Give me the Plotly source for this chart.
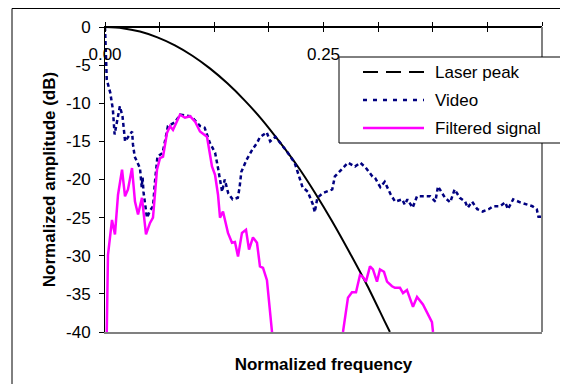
import plotly.graph_objects as go

# ---------------- data ----------------
series_names = ["Laser peak", "Video", "Filtered signal"]

laser_f = [0.00, 0.02, 0.04, 0.06, 0.08, 0.10, 0.12, 0.14, 0.16, 0.18,
           0.20, 0.22, 0.24, 0.26, 0.28, 0.30, 0.32, 0.326]
laser_db = [0.0, -0.15, -0.6, -1.36, -2.41, -3.77, -5.43, -7.39, -9.65, -12.2,
            -15.1, -18.2, -21.7, -25.5, -29.6, -33.9, -38.6, -40.0]

video_f = [0.000, 0.001, 0.002, 0.006, 0.009, 0.011, 0.017, 0.020, 0.023, 0.031,
           0.032, 0.034, 0.040, 0.042, 0.043, 0.044, 0.046, 0.048, 0.052, 0.055,
           0.057, 0.060, 0.066, 0.072, 0.080, 0.086, 0.097, 0.101, 0.109, 0.114,
           0.120, 0.126, 0.129, 0.131, 0.134, 0.137, 0.141, 0.146, 0.152, 0.154,
           0.156, 0.162, 0.169, 0.174, 0.177, 0.185, 0.189, 0.195, 0.202, 0.208,
           0.217, 0.226, 0.232, 0.238, 0.240, 0.243, 0.249, 0.260, 0.263, 0.271,
           0.278, 0.286, 0.292, 0.298, 0.303, 0.306, 0.309, 0.315, 0.320, 0.327,
           0.332, 0.340, 0.343, 0.346, 0.352, 0.357, 0.372, 0.378, 0.381, 0.389,
           0.395, 0.400, 0.406, 0.412, 0.415, 0.420, 0.426, 0.432, 0.439, 0.444,
           0.452, 0.458, 0.461, 0.467, 0.475, 0.483, 0.489, 0.494, 0.496, 0.500]
video_db = [0.0, -4.0, -6.9, -8.6, -10.8, -14.1, -10.4, -11.7, -15.0, -13.7,
            -15.4, -17.0, -18.5, -21.0, -19.7, -21.6, -23.3, -25.0, -24.0, -23.5,
            -20.5, -17.0, -16.5, -13.0, -12.5, -11.5, -11.7, -12.0, -13.0, -13.2,
            -15.2, -16.5, -18.3, -19.7, -21.6, -20.0, -21.8, -22.6, -22.4, -21.0,
            -19.0, -17.4, -16.0, -15.2, -14.5, -13.8, -15.0, -14.4, -15.4, -16.3,
            -17.8, -21.0, -21.6, -23.3, -24.3, -22.4, -21.8, -21.3, -19.6, -18.7,
            -17.8, -18.3, -17.8, -18.4, -19.1, -19.6, -19.8, -21.0, -20.3, -22.0,
            -22.9, -22.6, -23.3, -22.6, -23.7, -22.2, -22.2, -22.9, -20.9, -22.4,
            -23.0, -21.3, -22.4, -22.9, -23.7, -22.9, -23.9, -24.2, -23.9, -23.5,
            -23.5, -23.0, -23.9, -22.6, -23.0, -23.3, -23.5, -23.9, -24.9, -24.9]

filt_f = [0.0020, 0.0034, 0.0080, 0.0114, 0.0149, 0.0195, 0.0229, 0.0263, 0.0309, 0.0343,
          0.0378, 0.0423, 0.0469, 0.0515, 0.0549, 0.0595, 0.0629, 0.0664, 0.0709, 0.0744,
          0.0778, 0.0858, 0.0915, 0.0973, 0.1030, 0.1087, 0.1167, 0.1224, 0.1259, 0.1293,
          0.1316, 0.1350, 0.1407, 0.1453, 0.1487, 0.1522, 0.1567, 0.1613, 0.1648, 0.1693,
          0.1739, 0.1773, 0.1808, 0.1853, 0.1911, 0.2300,
          0.2723, 0.2780, 0.2826, 0.2872, 0.2918, 0.2952, 0.2986, 0.3032, 0.3066, 0.3112,
          0.3146, 0.3192, 0.3227, 0.3284, 0.3318, 0.3375, 0.3410, 0.3455, 0.3524, 0.3570,
          0.3638, 0.3696, 0.3741, 0.3753]
filt_db = [-40.0, -29.9, -25.3, -27.2, -22.0, -18.7, -22.2, -21.3, -18.5, -22.9,
           -24.6, -22.4, -27.2, -25.7, -25.0, -18.7, -17.2, -17.0, -13.9, -13.0,
           -13.5, -11.5, -11.9, -11.7, -12.4, -13.7, -14.4, -18.3, -19.4, -22.0,
           -25.0, -24.2, -27.0, -28.3, -28.2, -30.1, -27.0, -26.6, -29.2, -27.6,
           -28.3, -31.4, -31.6, -33.2, -40.0, None,
           -40.0, -35.5, -34.8, -34.8, -32.5, -32.8, -33.4, -31.4, -31.8, -33.4,
           -31.8, -32.1, -33.4, -34.0, -34.2, -34.2, -34.9, -34.5, -36.7, -35.4,
           -36.4, -37.7, -38.7, -40.0]

x_tick_vals = [0.0, 0.0625, 0.125, 0.1875, 0.25, 0.3125, 0.375, 0.4375, 0.5]
x_tick_text = ["0.00", "", "", "", "0.25", "", "", "", ""]
y_tick_vals = [0, -5, -10, -15, -20, -25, -30, -35, -40]
y_tick_text = ["0", "-5", "-10", "-15", "-20", "-25", "-30", "-35", "-40"]

# ---------------- styles / layout ----------------
OFF = 8                      # page body margin of the html page
W, H = 568 - OFF, 384 - OFF
ML, MR, MT, MB = 97, 26, 19, 52
FONT = "Arial, Liberation Sans, sans-serif"
colors = ["#000000", "#000080", "#FF00FF"]
widths = [2, 2.5, 2.5]
plot_dash = ["solid", "4px,3px", "solid"]
legend_dash = ["15px,8px", "4px,6px", "solid"]
X_RANGE = [0, 0.5]
Y_RANGE = [-40, 0]

fig = go.Figure()
fig.add_trace(go.Scatter(x=laser_f, y=laser_db, mode="lines", name=series_names[0],
                         xaxis="x", yaxis="y",
                         line=dict(color=colors[0], width=widths[0], dash=plot_dash[0],
                                   shape="spline", smoothing=0.8)))
fig.add_trace(go.Scatter(x=video_f, y=video_db, mode="lines", name=series_names[1],
                         xaxis="x2", yaxis="y",
                         line=dict(color=colors[1], width=widths[1], dash=plot_dash[1])))
fig.add_trace(go.Scatter(x=filt_f, y=filt_db, mode="lines", name=series_names[2],
                         xaxis="x3", yaxis="y", connectgaps=False,
                         line=dict(color=colors[2], width=widths[2], dash=plot_dash[2])))

pw, ph = W - ML - MR, H - MT - MB


def px(x):
    """reference-picture pixel x -> paper fraction"""
    return (x - OFF - ML) / pw


def py(y):
    """reference-picture pixel y -> paper fraction"""
    return (H - MB - (y - OFF)) / ph


shapes = []
# outer chart border
shapes.append(dict(type="rect", xref="paper", yref="paper", x0=px(12), x1=px(620),
                   y0=py(420), y1=(H - MB - 0.5) / ph, line=dict(color="black", width=1),
                   fillcolor="rgba(0,0,0,0)", layer="below"))
# right border of the plot area
shapes.append(dict(type="line", xref="paper", yref="paper", x0=1, x1=1, y0=0, y1=1,
                   line=dict(color="#808080", width=2), layer="above"))
# legend box
shapes.append(dict(type="rect", xref="paper", yref="paper", x0=px(339), x1=px(566),
                   y0=py(143), y1=py(57), line=dict(color="black", width=1),
                   fillcolor="white", layer="above"))
annotations = []
row_y = [72, 100, 128]
for i in range(3):
    shapes.append(dict(type="line", xref="paper", yref="paper", x0=px(363), x1=px(424),
                       y0=py(row_y[i]), y1=py(row_y[i]),
                       line=dict(color=colors[i], width=widths[i], dash=legend_dash[i]),
                       layer="above"))
    annotations.append(dict(xref="paper", yref="paper", x=px(433), y=py(row_y[i]),
                            text=series_names[i], showarrow=False, xanchor="left",
                            yanchor="middle", font=dict(size=17, color="black", family=FONT)))

fig.update_layout(
    width=W, height=H,
    margin=dict(l=ML, r=MR, t=MT, b=MB, autoexpand=False),
    paper_bgcolor="white", plot_bgcolor="white",
    showlegend=False,
    font=dict(family=FONT, size=17, color="black"),
    shapes=shapes, annotations=annotations,
    # bottom edge of the plot area + axis title
    xaxis=dict(range=X_RANGE, side="bottom", anchor="y", showline=True,
               linecolor="#808080", linewidth=2, ticks="", showticklabels=False,
               showgrid=False, zeroline=False,
               title=dict(text="Normalized frequency", standoff=25,
                          font=dict(size=17, weight="bold"))),
    # upper half of the crossing tick marks on the 0 dB line
    xaxis2=dict(range=X_RANGE, side="top", anchor="y", overlaying="x", showline=True,
                linecolor="black", linewidth=1,
                tickmode="array", tickvals=x_tick_vals, ticks="outside", ticklen=4,
                tickcolor="black", tickwidth=1, showticklabels=False, showgrid=False,
                zeroline=False),
    # 0 dB line with labels hanging below it
    xaxis3=dict(range=X_RANGE, side="bottom", anchor="free", position=1, overlaying="x",
                showline=True, linecolor="black", linewidth=1,
                tickmode="array", tickvals=x_tick_vals, ticktext=x_tick_text,
                ticks="outside", ticklen=4, tickcolor="black", tickwidth=1,
                ticklabelstandoff=8, showgrid=False, zeroline=False,
                tickfont=dict(size=17)),
    yaxis=dict(range=Y_RANGE, showline=True, linecolor="black", linewidth=1,
               tickmode="array", tickvals=y_tick_vals, ticktext=y_tick_text,
               ticks="outside", ticklen=5, tickcolor="black", tickwidth=1,
               ticklabelstandoff=5, showgrid=False, zeroline=False, tickfont=dict(size=17),
               title=dict(text="Normalized amplitude (dB)", standoff=6,
                          font=dict(size=17, weight="bold"))),
)

fig.write_html("out.html")
